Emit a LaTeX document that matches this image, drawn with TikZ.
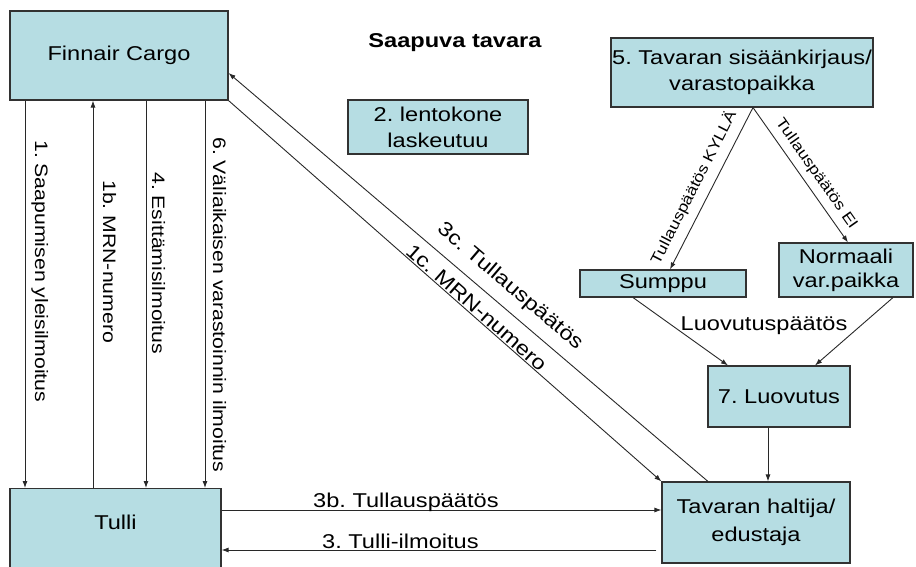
\documentclass[tikz,border=0pt]{standalone}
\usepackage{fontspec}
\setmainfont[FakeStretch=1.18]{Liberation Sans}
\usetikzlibrary{arrows.meta}
\definecolor{boxfill}{RGB}{182,221,227}
\definecolor{boxline}{RGB}{50,50,50}
\definecolor{linec}{RGB}{40,40,40}
\frenchspacing
\begin{document}
\begin{tikzpicture}[x=1pt,y=-1pt,
  box/.style={draw=boxline, line width=1.1pt, fill=boxfill, inner sep=0pt, align=center, font=\fontsize{20}{26}\selectfont},
  conn/.style={draw=linec, line width=0.9pt, -{Latex[length=7pt,width=5pt]}},
  lab/.style={inner sep=0pt, font=\fontsize{20}{24}\selectfont},
  vlab/.style={inner sep=0pt, rotate=-90, anchor=base west, font=\fontsize{18}{22}\selectfont},
  slab/.style={inner sep=0pt, font=\fontsize{15}{18}\selectfont}]
\useasboundingbox (0,0) rectangle (916,567);
% boxes
\node[box, minimum width=218pt, minimum height=89pt] (fc) at (119,55.5) {Finnair Cargo};
\node[box, minimum width=180pt, minimum height=54pt] (land) at (438,127) {2. lentokone\\laskeutuu};
\node[box, minimum width=262pt, minimum height=69pt] (reg) at (742,72.5) {5. Tavaran sisäänkirjaus/\\varastopaikka};
\node[box, minimum width=166pt, minimum height=27pt] (sump) at (663,283.5) {Sumppu};
\node[box, minimum width=134pt, minimum height=54pt, font=\fontsize{20}{24}\selectfont] (norm) at (846,270) {Normaali\\var.paikka};
\node[box, minimum width=142pt, minimum height=61pt] (luov) at (779,396.5) {7. Luovutus};
\node[box, minimum width=188pt, minimum height=81pt, font=\fontsize{20}{28}\selectfont] (tav) at (756,522.5) {Tavaran haltija/\\edustaja};
\node[box, minimum width=211pt, minimum height=100pt, anchor=north] (tulli) at (115.5,488) {};
\node[lab] (tullit) at (115.5,522) {Tulli};
% title
\node[lab, font=\fontsize{20}{24}\selectfont\bfseries] (title) at (455,43) {Saapuva tavara};
% helper coordinates
\coordinate (v1) at (25,0);
\coordinate (v2) at (93,0);
\coordinate (v3) at (146,0);
\coordinate (v4) at (205,0);
\coordinate (x708) at (708,0);
\coordinate (y73) at (0,73);
\coordinate (x753) at (753,0);
\coordinate (x670) at (670,0);
\coordinate (x848) at (848,0);
\coordinate (x633) at (633,0);
\coordinate (x728) at (728,0);
\coordinate (x893) at (893,0);
\coordinate (x815) at (815,0);
\coordinate (x768) at (768,0);
\coordinate (y510) at (0,510);
\coordinate (y550) at (0,550);
% vertical arrows
\draw[conn] (fc.south -| v1) -- (tulli.north -| v1);
\draw[conn] (tulli.north -| v2) -- (fc.south -| v2);
\draw[conn] (fc.south -| v3) -- (tulli.north -| v3);
\draw[conn] (fc.south -| v4) -- (tulli.north -| v4);
\node[vlab] (l1) at (35,140) {1. Saapumisen yleisilmoitus};
\node[vlab] (l1b) at (103,180) {1b. MRN-numero};
\node[vlab] (l4) at (152,172) {4. Esittämisilmoitus};
\node[vlab] (l6) at (213,137) {6. Väliaikaisen varastoinnin ilmoitus};
% diagonals
\draw[conn] (tav.north -| x708) -- node[lab, sloped, above=10pt, pos=0.44] (l3c) {3c. Tullauspäätös} (fc.east |- y73);
\draw[conn] (fc.south east) -- node[lab, sloped, above=1pt, pos=0.56] (l1c) {1c. MRN-numero} (tav.north west);
% right part
\draw[conn] (reg.south -| x753) -- node[slab, sloped, above=8pt, pos=0.54] (lky) {Tullauspäätös KYLLÄ} (sump.north -| x670);
\draw[conn] (reg.south -| x753) -- node[slab, sloped, above=6pt, pos=0.55] (lei) {Tullauspäätös EI} (norm.north -| x848);
\draw[conn] (sump.south -| x633) -- (luov.north -| x728);
\draw[conn] (norm.south -| x893) -- (luov.north -| x815);
\node[lab, anchor=base] (lp) at (764,330) {Luovutuspäätös};
\draw[conn] (luov.south -| x768) -- (tav.north -| x768);
% horizontal
\draw[conn] (tulli.east |- y510) -- (tav.west |- y510);
\draw[conn, shorten <=5pt] (tav.west |- y550) -- (tulli.east |- y550);
\node[lab, anchor=base west] (l3b) at (313,507) {3b. Tullauspäätös};
\node[lab, anchor=base west] (l3) at (322,548) {3. Tulli-ilmoitus};
\end{tikzpicture}
\end{document}
